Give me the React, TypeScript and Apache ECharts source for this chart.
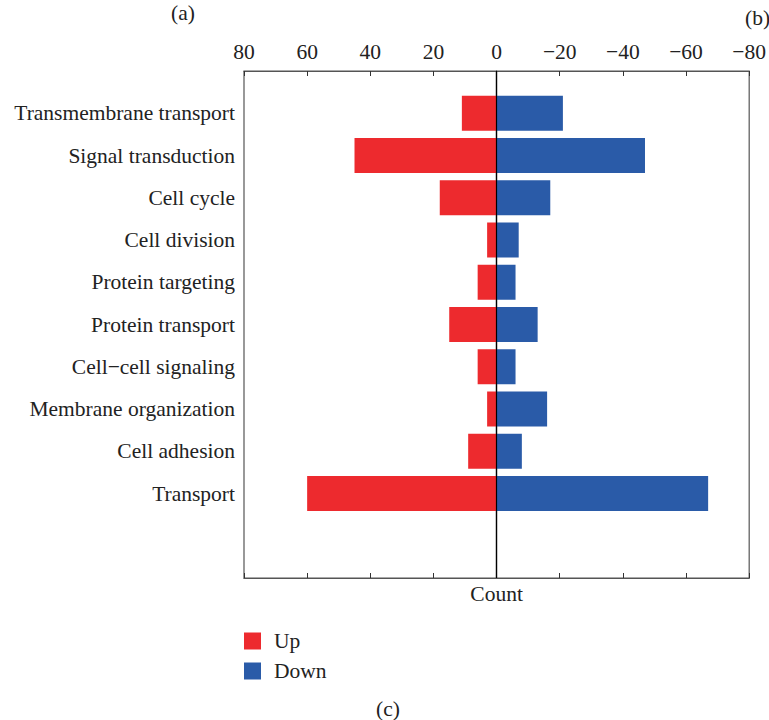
import React, { useEffect, useRef } from "react";
import * as echarts from "echarts";

const categories = [
  "",
  "Transmembrane transport",
  "Signal transduction",
  "Cell cycle",
  "Cell division",
  "Protein targeting",
  "Protein transport",
  "Cell\u2212cell signaling",
  "Membrane organization",
  "Cell adhesion",
  "Transport",
  "",
  "",
];
const upValues = [null, 11, 45, 18, 3, 6, 15, 6, 3, 9, 60, null, null];
const downValues = [null, -21, -47, -17, -7, -6, -13, -6, -16, -8, -67, null, null];
const xMin = -80;
const xMax = 80;
const xInterval = 20;

const FONT = "Liberation Serif";
const FS = 21.5;
const RED = "#ED2A2E";
const BLUE = "#2A5BA8";

export default function App() {
  const ref = useRef<HTMLDivElement>(null);
  useEffect(() => {
    if (!ref.current) return;
    const chart = echarts.init(ref.current, undefined, { renderer: "svg" });
    const fmt = (v: number) => (v < 0 ? "\u2212" + String(-v) : String(v));
    const tickInterval = (_i: number, v: string) => v !== "";
    chart.setOption({
      animation: false,
      textStyle: { fontFamily: FONT, color: "#222" },
      grid: {
        left: 244,
        right: 18,
        top: 71,
        bottom: 142,
        show: true,
        borderColor: "#555",
        borderWidth: 1.2,
      },
      legend: {
        orient: "vertical",
        left: 244,
        top: 630,
        padding: 0,
        icon: "rect",
        itemWidth: 17,
        itemHeight: 17,
        itemGap: 8,
        textStyle: { fontFamily: FONT, fontSize: FS, color: "#222", padding: [0, 0, 0, 8] },
        data: ["Up", "Down"],
      },
      xAxis: [
        {
          type: "value",
          position: "top",
          inverse: true,
          min: xMin,
          max: xMax,
          interval: xInterval,
          axisLine: { show: true, lineStyle: { color: "#555", width: 1.2 } },
          axisTick: { show: true, inside: true, length: 5, lineStyle: { color: "#333" } },
          axisLabel: { formatter: fmt, fontFamily: FONT, fontSize: FS, color: "#222", margin: 8 },
          splitLine: { show: false },
        },
        {
          type: "value",
          position: "bottom",
          inverse: true,
          min: xMin,
          max: xMax,
          interval: xInterval,
          name: "Count",
          nameLocation: "middle",
          nameGap: 5,
          nameTextStyle: { fontFamily: FONT, fontSize: FS, color: "#222", verticalAlign: "top" },
          axisLine: { show: true, lineStyle: { color: "#555", width: 1.2 } },
          axisTick: { show: true, inside: true, length: 5, lineStyle: { color: "#333" } },
          axisLabel: { show: false },
          splitLine: { show: false },
        },
      ],
      yAxis: [
        {
          type: "category",
          data: categories,
          inverse: true,
          boundaryGap: false,
          position: "left",
          axisLine: { show: true, lineStyle: { color: "#555", width: 1.2 } },
          axisTick: { show: true, inside: true, length: 6, interval: tickInterval, lineStyle: { color: "#333" } },
          axisLabel: { fontFamily: FONT, fontSize: FS, color: "#222", margin: 9, interval: 0 },
        },
        {
          type: "category",
          data: categories,
          inverse: true,
          boundaryGap: false,
          position: "right",
          axisLine: { show: true, lineStyle: { color: "#555", width: 1.2 } },
          axisTick: { show: true, inside: true, length: 6, interval: tickInterval, lineStyle: { color: "#333" } },
          axisLabel: { show: false },
        },
      ],
      series: [
        {
          name: "Up",
          type: "bar",
          stack: "s",
          xAxisIndex: 0,
          yAxisIndex: 0,
          data: upValues,
          barWidth: 35,
          itemStyle: { color: RED },
          markLine: {
            silent: true,
            symbol: "none",
            label: { show: false },
            lineStyle: { color: "#000", width: 1.2, type: "solid" },
            data: [{ xAxis: 0 }],
          },
        },
        {
          name: "Down",
          type: "bar",
          stack: "s",
          xAxisIndex: 0,
          yAxisIndex: 0,
          data: downValues,
          barWidth: 35,
          itemStyle: { color: BLUE },
        },
      ],
      graphic: [
        { type: "text", left: 171, top: 2, style: { text: "(a)", font: `${FS}px "${FONT}"`, fill: "#222" } },
        { type: "text", left: 745, top: 7, style: { text: "(b)", font: `${FS}px "${FONT}"`, fill: "#222" } },
        { type: "text", left: 376, top: 698, style: { text: "(c)", font: `${FS}px "${FONT}"`, fill: "#222" } },
      ],
    });
    return () => chart.dispose();
  }, []);
  return (
    <div
      ref={ref}
      style={{ position: "fixed", left: 0, top: 0, width: 769, height: 720, background: "#fff" }}
    />
  );
}
